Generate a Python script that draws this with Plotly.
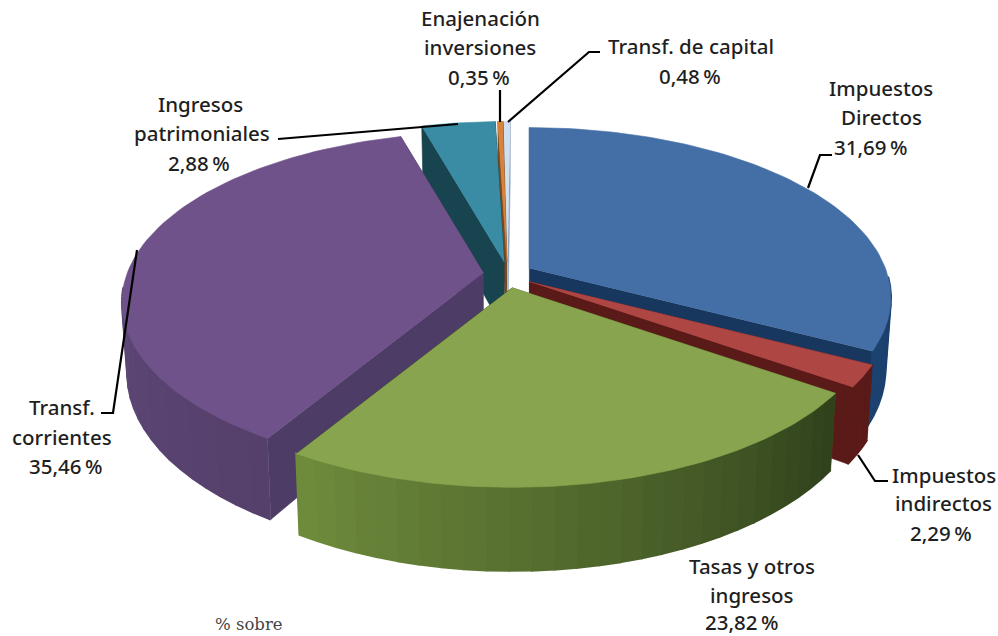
import numpy as np
import plotly.graph_objects as go

categories = ["Impuestos Directos", "Impuestos indirectos", "Tasas y otros ingresos",
              "Transf. corrientes", "Ingresos patrimoniales", "Enajenación inversiones",
              "Transf. de capital"]
values = [31.69, 2.29, 23.82, 35.46, 2.88, 0.35, 0.48]
label_lines = [["Impuestos", "Directos"], ["Impuestos", "indirectos"], ["Tasas y otros", "ingresos"],
               ["Transf.", "corrientes"], ["Ingresos", "patrimoniales"], ["Enajenación", "inversiones"],
               ["Transf. de capital"]]
footnote = "% sobre"

top_colors = ["#436fa6", "#ae4644", "#88a44e", "#6e5289", "#3a8ba4", "#d8833c", "#cfdff0"]
face_colors = ["#17375e", "#5a1a18", "#3f5222", "#4d3c66", "#17444f", "#7a4a20", "#8fa4bd"]
wall_start = ["#17375e", "#5a1a18", "#2f401b", "#55406c", "#1f5a6b", "#8a4f1f", "#a0b4cc"]
wall_end = ["#1c4270", "#5a1a18", "#6f8c3c", "#6a5284", "#1f5a6b", "#8a4f1f", "#a0b4cc"]
# label line centres, px
label_xy = [[(881, 88), (881, 117), (870, 147)], [(944, 475), (943, 503), (941, 533)],
            [(752, 566), (752, 595), (741, 622)], [(62, 407), (62, 437), (65, 466)],
            [(200, 104), (202, 133), (199, 163)], [(480, 18), (480, 47), (479, 77)],
            [(691, 46), (690, 76)]]
leaders = [[(832, 155), (820, 155), (808, 188)], [(888, 481), (875, 481), (858, 455)], [],
           [(101, 413), (113, 413), (137, 250)], [(278, 139), (458, 124)],
           [(500, 90), (500, 122)], [(600, 52), (589, 52), (508, 122)]]
draw_order = [6, 5, 4, 0, 3, 1, 2]

CX, CY, EX, EY = 508.0, 275.0, 25.0, 13.0
RX, RY, K, DEPTH, BOT = 356.0, 165.0, 0.173, 69.0, 0.985
# small view correction of the drawn angle (degrees)
WARP_AT = [0, 117, 126, 213, 346, 357, 360]
WARP_BY = [0, 0, -1, -3.5, -2, 1.4, 0.5]

def hexmix(a, b, t):
    ca = [int(a[i:i + 2], 16) for i in (1, 3, 5)]
    cb = [int(b[i:i + 2], 16) for i in (1, 3, 5)]
    return "#%02x%02x%02x" % tuple(int(round(x + (y - x) * t)) for x, y in zip(ca, cb))

total = sum(values)
edges = np.concatenate([[0], np.cumsum(values)]) / total * 2 * np.pi

def rim(apex, th, lower=False):
    deg = np.degrees(th)
    th2 = np.radians(deg + np.interp(deg, WARP_AT, WARP_BY))
    u, v = np.sin(th2), np.cos(th2)
    w = 1 + K * v
    x = RX * u / w
    y = -RY * v / w
    if lower:
        return apex[0] + x * BOT, apex[1] + y + DEPTH / w
    return apex[0] + x, apex[1] + y

fig = go.Figure()

def poly(xs, ys, color, lw=0.6):
    fig.add_trace(go.Scatter(x=list(xs), y=list(ys), mode="lines", fill="toself", fillcolor=color,
                             line=dict(color=color, width=lw), hoverinfo="skip", showlegend=False))

for i in draw_order:
    a, b = edges[i], edges[i + 1]
    mid = (a + b) / 2
    apex = (CX + EX * np.sin(mid), CY - EY * np.cos(mid))
    low = (apex[0], apex[1] + DEPTH)
    # radial faces
    for th in (a, b):
        x1, y1 = rim(apex, th)
        x2, y2 = rim(apex, th, True)
        poly([apex[0], x1, x2, low[0]], [apex[1], y1, y2, low[1]], face_colors[i])
    # outer wall, only where it faces the viewer
    ths = np.linspace(a, b, max(4, int((b - a) / np.pi * 60)))
    for j in range(len(ths) - 1):
        t0, t1 = ths[j], ths[j + 1]
        if np.cos((t0 + t1) / 2) > -0.05:
            continue
        x1, y1 = rim(apex, t0)
        x2, y2 = rim(apex, t1)
        x3, y3 = rim(apex, t1, True)
        x4, y4 = rim(apex, t0, True)
        f = (j + 0.5) / (len(ths) - 1)
        poly([x1, x2, x3, x4], [y1, y2, y3, y4], hexmix(wall_start[i], wall_end[i], f), lw=2.2)
    # top surface
    th = np.linspace(a, b, 80)
    xr, yr = rim(apex, th)
    poly(np.r_[apex[0], xr], np.r_[apex[1], yr], top_colors[i])

for pts in leaders:
    if pts:
        fig.add_trace(go.Scatter(x=[p[0] for p in pts], y=[p[1] for p in pts], mode="lines",
                                 line=dict(color="#000000", width=2.2), hoverinfo="skip", showlegend=False))

FONT = dict(family="Noto Sans", size=20.5, color="#1f1f1f", weight=500)
for lines, val, xy in zip(label_lines, values, label_xy):
    texts = lines + [f"{val:.2f}".replace(".", ",") + "\u2009%"]
    for t, (x, y) in zip(texts, xy):
        fig.add_annotation(x=x, y=y, text=t, showarrow=False, xanchor="center", yanchor="middle", font=FONT)
fig.add_annotation(x=249, y=624, text=footnote, showarrow=False, xanchor="center", yanchor="middle",
                   font=dict(family="DejaVu Serif", size=16.5, color="#444444"))

fig.update_layout(width=998, height=636, margin=dict(l=0, r=0, t=0, b=0),
                  paper_bgcolor="white", plot_bgcolor="white",
                  xaxis=dict(range=[0, 998], visible=False, fixedrange=True),
                  yaxis=dict(range=[636, 0], visible=False, fixedrange=True))
fig.write_html("out.html", config=dict(displayModeBar=False),
               post_script="document.body.style.margin='0';document.documentElement.style.overflow='hidden';")
